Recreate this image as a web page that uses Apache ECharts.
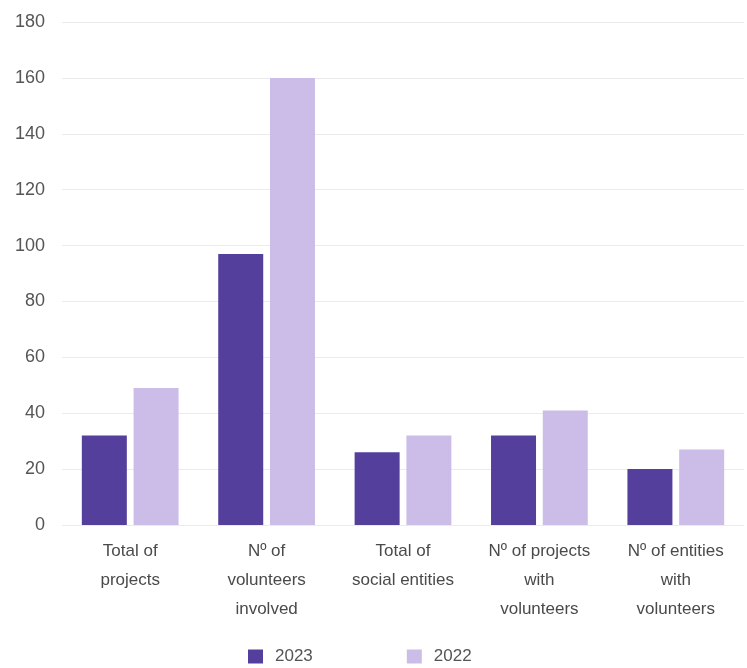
<!DOCTYPE html>
<html>
<head>
<meta charset="utf-8">
<script src="https://cdn.jsdelivr.net/npm/echarts@6/dist/echarts.min.js"></script>
<style>html,body{margin:0;padding:0;background:#fff;}#c{width:747px;height:668px;}</style>
</head>
<body>
<div id="c"></div>
<script>
const categories = [
  "Total of\nprojects",
  "Nº of\nvolunteers\ninvolved",
  "Total of\nsocial entities",
  "Nº of projects\nwith\nvolunteers",
  "Nº of entities\nwith\nvolunteers"
];
const values2023 = [32, 97, 26, 32, 20];
const values2022 = [49, 160, 32, 41, 27];
const yTicks = [0, 20, 40, 60, 80, 100, 120, 140, 160, 180];

const font = "Liberation Sans";
const chart = echarts.init(document.getElementById('c'));
chart.setOption({
  animation: false,
  backgroundColor: '#fff',
  grid: { left: 62, right: 3, top: 22, bottom: 143, containLabel: false },
  legend: {
    left: 243, top: 643,
    itemWidth: 15, itemHeight: 14, itemGap: 94,
    icon: 'rect',
    textStyle: { fontFamily: font, fontSize: 17, color: '#555', padding: [0, 0, 0, 7] },
    data: ['2023', '2022']
  },
  xAxis: {
    type: 'category',
    data: categories,
    axisLine: { show: false },
    axisTick: { show: false },
    axisLabel: { fontFamily: font, fontSize: 17, color: '#4a4a4a', lineHeight: 29, margin: 12, interval: 0 }
  },
  yAxis: {
    type: 'value',
    min: yTicks[0], max: yTicks[yTicks.length - 1], interval: 20,
    axisLine: { show: false },
    axisTick: { show: false },
    splitLine: { lineStyle: { color: '#ebebeb', width: 1 } },
    axisLabel: { fontFamily: font, fontSize: 18, color: '#555', margin: 17 }
  },
  series: [
    { name: '2023', type: 'bar', data: values2023, barWidth: 45, barGap: '15%',
      itemStyle: { color: '#553f9c' } },
    { name: '2022', type: 'bar', data: values2022, barWidth: 45,
      itemStyle: { color: '#ccbde8' } }
  ]
});
</script>
</body>
</html>
